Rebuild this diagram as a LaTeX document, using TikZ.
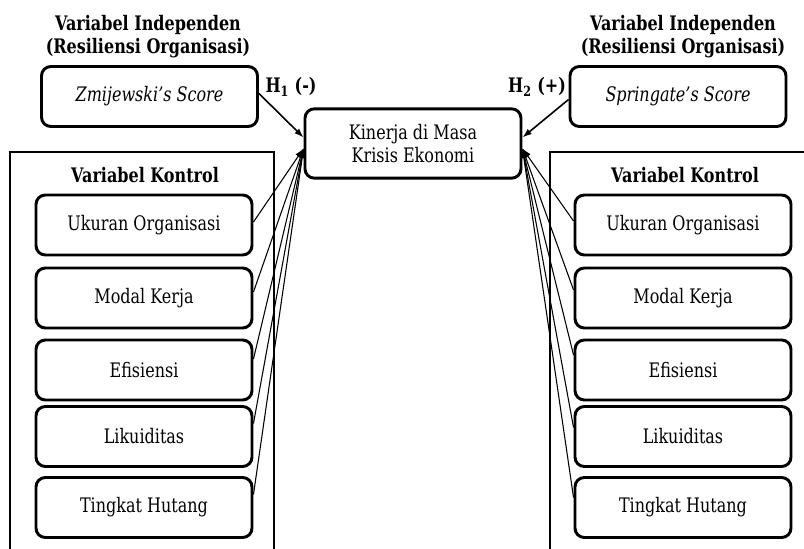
\documentclass[tikz,border=0pt]{standalone}
\usepackage{fontspec}
\setmainfont{DejaVu Serif}[FakeStretch=0.8]
\usetikzlibrary{arrows.meta,calc}
\begin{document}
\begin{tikzpicture}[x=0.75pt,y=-0.75pt,
  box/.style={draw, line width=2.2pt, rounded corners=7pt, minimum width=162pt,
    minimum height=45pt, align=center, inner sep=2pt,
    font=\fontsize{15}{17.25}\selectfont},
  ttl/.style={align=center, inner sep=1pt, font=\bfseries\fontsize{15}{17.25}\selectfont},
  hlab/.style={inner sep=1pt, font=\bfseries\fontsize{15}{17}\selectfont},
  framebox/.style={line width=2pt},
  arr/.style={-{Latex[length=7pt,width=5pt]}, line width=0.8pt},
]
\useasboundingbox (0,0) rectangle (804,549);

% titles
\node[ttl] (tl) at (148,36.5) {Variabel Independen\\(Resiliensi Organisasi)};
\node[ttl] (tr) at (683,36.5) {Variabel Independen\\(Resiliensi Organisasi)};

% independent variables
\node[box] (zm) at (149.5,96.5) {\textit{Zmijewski’s Score}};
\node[box] (sp) at (678,96.5) {\textit{Springate’s Score}};

% dependent
\node[box, minimum height=52pt] (kin) at (413,143.5) {Kinerja di Masa\\Krisis Ekonomi};

% hypothesis labels
\node[hlab] (h1) at (291,87) {H\textsubscript{1} (-)};
\node[hlab] (h2) at (537,87) {H\textsubscript{2} (+)};

% control frames
\draw[framebox] (10,549) -- (10,152) -- (274,152) -- (274,549);
\draw[framebox] (550,549) -- (550,152) -- (804,152);
\node[ttl] (kl) at (145,175) {Variabel Kontrol};
\node[ttl] (kr) at (685,175) {Variabel Kontrol};

% control boxes left
\node[box] (l1) at (144,225) {Ukuran Organisasi};
\node[box] (l2) at (144,298) {Modal Kerja};
\node[box] (l3) at (144,370) {Efisiensi};
\node[box] (l4) at (144,436.5) {Likuiditas};
\node[box] (l5) at (144,507.5) {Tingkat Hutang};

% control boxes right
\node[box] (r1) at (683,225) {Ukuran Organisasi};
\node[box] (r2) at (683,298) {Modal Kerja};
\node[box] (r3) at (683,370) {Efisiensi};
\node[box] (r4) at (683,436.5) {Likuiditas};
\node[box] (r5) at (683,507.5) {Tingkat Hutang};

% arrows
\draw[arr, line width=1.2pt] ($(zm.east)+(0,-3)$) -- ($(kin.west)+(0,-6)$);
\draw[arr, line width=1.2pt] ($(sp.west)+(0,3)$) -- ($(kin.east)+(0,-6)$);
\foreach \n/\o in {l1/-3, l2/-6, l3/-11, l4/-13, l5/-13}
  \draw[arr] ($(\n.east)+(0,\o)$) -- ($(kin.west)+(0,5)$);
\foreach \n/\o in {r1/-4, r2/-8, r3/-15, r4/-9, r5/-10}
  \draw[arr] ($(\n.west)+(0,\o)$) -- ($(kin.east)+(0,5)$);
\end{tikzpicture}
\end{document}
